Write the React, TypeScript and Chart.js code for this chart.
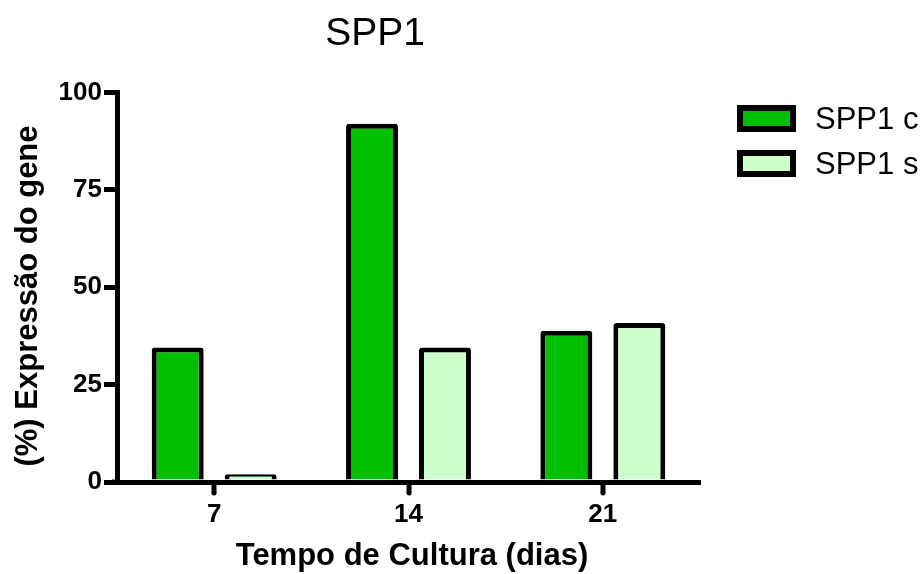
import React, { useEffect, useRef } from "react";
import { Chart, registerables } from "chart.js";

Chart.register(...registerables);

const categories = ["7", "14", "21"];
const seriesLabels = ["SPP1 c", "SPP1 s"];
const seriesC = [34.5, 92, 38.8];
const seriesS = [2, 34.5, 40.8];
const yTicks = [0, 25, 50, 75, 100];
const chartTitle = "SPP1";
const xTitle = "Tempo de Cultura (dias)";
const yTitle = "(%) Expressão do gene";

const colorC = "#00BF00";
const colorS = "#CCFFCC";
const FONT = "'Liberation Sans', Arial, sans-serif";

export default function App() {
  const ref = useRef<HTMLCanvasElement | null>(null);

  useEffect(() => {
    if (!ref.current) return;
    const decor = {
      id: "decor",
      afterDraw(chart: any) {
        const ctx = chart.ctx;
        const area = chart.chartArea;
        ctx.save();
        ctx.globalCompositeOperation = "source-over";
        ctx.globalAlpha = 1;
        // x tick marks (drawn first)
        const xs = chart.scales.x;
        ctx.fillStyle = "#000";
        for (let i = 0; i < categories.length; i++) {
          const px = Math.round(xs.getPixelForValue(i));
          ctx.fillRect(px - 2.5, area.bottom, 5, 11);
          ctx.beginPath();
          ctx.arc(px, area.bottom + 11, 2.5, 0, Math.PI * 2);
          ctx.fill();
        }
        ctx.fillRect(area.left - 5, area.bottom - 2.5, 5, 5);

        ctx.font = `39px ${FONT}`;
        ctx.textAlign = "center";
        ctx.textBaseline = "alphabetic";
        ctx.fillText(chartTitle, 375, 45);
        ctx.font = `bold 31px ${FONT}`;
        ctx.fillText(xTitle, 412, 565);
        ctx.save();
        ctx.translate(37, 296);
        ctx.rotate(-Math.PI / 2);
        ctx.fillText(yTitle, 0, 0);
        ctx.restore();
        const cols = [colorC, colorS];
        const tops = [105, 150];
        ctx.textAlign = "left";
        ctx.font = `31px ${FONT}`;
        for (let i = 0; i < 2; i++) {
          const x = 737, y = tops[i], w = 59, h = 27;
          ctx.fillStyle = cols[i];
          ctx.fillRect(x, y, w, h);
          ctx.strokeStyle = "#000";
          ctx.lineWidth = 6;
          ctx.strokeRect(x + 3, y + 3, w - 6, h - 6);
          ctx.fillStyle = "#000";
          ctx.fillText(seriesLabels[i], 815, y + 23.5);
        }
        ctx.restore();
      },
    };

    const chart = new Chart(ref.current, {
      type: "bar",
      data: {
        labels: categories,
        datasets: [
          {
            label: seriesLabels[0],
            data: seriesC,
            backgroundColor: colorC,
            borderColor: "#000",
            borderWidth: 5,
            borderRadius: 3,
            barPercentage: 0.712,
            categoryPercentage: 0.751,
          },
          {
            label: seriesLabels[1],
            data: seriesS,
            backgroundColor: colorS,
            borderColor: "#000",
            borderWidth: 5,
            borderRadius: 3,
            barPercentage: 0.712,
            categoryPercentage: 0.751,
          },
        ],
      },
      options: {
        responsive: false,
        animation: false,
        layout: { padding: { left: 0, top: 92.5, right: 223, bottom: 0 } },
        plugins: {
          legend: { display: false },
          title: { display: false },
          tooltip: { enabled: false },
        },
        scales: {
          x: {
            afterFit: (s: any) => {
              s.height = 92;
            },
            grid: {
              display: false,
              drawTicks: false,
            },
            border: { display: true, width: 5, color: "#000" },
            ticks: {
              color: "#000",
              padding: 17,
              font: { family: FONT, size: 26, weight: "bold" },
            },
          },
          y: {
            min: 0,
            max: 100,
            afterFit: (s: any) => {
              s.width = 117;
            },
            afterBuildTicks: (s: any) => {
              s.ticks = yTicks.map((v) => ({ value: v }));
            },
            grid: {
              drawOnChartArea: false,
              drawTicks: true,
              tickLength: 13,
              lineWidth: 5,
              color: "#000",
            },
            border: { display: true, width: 5, color: "#000" },
            ticks: {
              color: "#000",
              padding: 2,
              font: { family: FONT, size: 26, weight: "bold" },
            },
          },
        },
      },
      plugins: [decor],
    } as any);
    return () => chart.destroy();
  }, []);

  return (
    <div style={{ position: "fixed", left: 0, top: 0, width: 923, height: 574, background: "#fff" }}>
      <canvas ref={ref} width={923} height={574} />
    </div>
  );
}
